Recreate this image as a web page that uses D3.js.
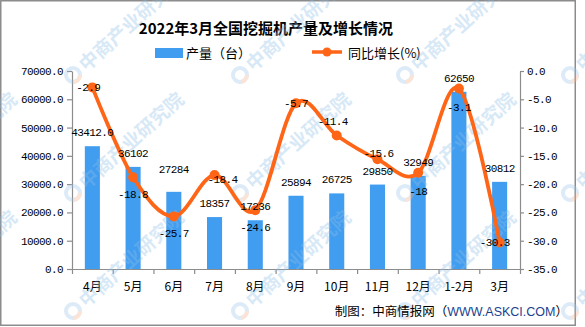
<!DOCTYPE html>
<html><head><meta charset="utf-8">
<script src="https://cdn.jsdelivr.net/npm/d3@7"></script>
<style>
html,body{margin:0;padding:0;background:#fff;}
svg{display:block;}
</style></head>
<body>
<svg id="chart" width="585" height="327"></svg>
<script>
// ---- data ----
const months = ["4月","5月","6月","7月","8月","9月","10月","11月","12月","1-2月","3月"];
const production = [43412, 36102, 27284, 18357, 17236, 25894, 26725, 29850, 32949, 62650, 30812];
const productionLabels = ["43412.0","36102","27284","18357","17236","25894","26725","29850","32949","62650","30812"];
const growth = [-2.9, -18.8, -25.7, -18.4, -24.6, -5.7, -11.4, -15.6, -18, -3.1, -30.3];
const leftTicks = [0, 10000, 20000, 30000, 40000, 50000, 60000, 70000];
const rightTicks = [0, -5, -10, -15, -20, -25, -30, -35];

// ---- layout (label offsets relative to the mark) ----
const barLabelLift = [10,10,19,10,10,10,10,10,10,10,10];
const lineLabelOffset = [[-4,4],[0,21],[0,21],[8,8],[0,21],[0,4],[-4,-10],[1,-2],[0,22],[0,22],[-5,4]];

const svg = d3.select("#chart");
const L = 72, R = 520, T = 71, B = 269;
const BLUE = "#419df0", ORANGE = "#ff6517", AX = "#8c8c8c";
const numFont = "'Liberation Mono', 'DejaVu Sans Mono', monospace";
const cjkFont = "'Noto Sans CJK SC', 'Noto Sans', sans-serif";

// border
svg.append("rect").attr("x",0.75).attr("y",0.75).attr("width",574.5).attr("height",324.5)
  .attr("fill","#fff").attr("stroke",AX).attr("stroke-width",1.5);

const x = d3.scaleBand().domain(months).range([L,R]).paddingInner(0.63).paddingOuter(0.315);
const xEdge = d3.scaleLinear().domain([0, months.length]).range([L,R]);
const yL = d3.scaleLinear().domain([0,70000]).range([B,T]);
const yR = d3.scaleLinear().domain([-35,0]).range([B,T]);
const cx = m => x(m) + x.bandwidth()/2;

// title
svg.append("text").attr("x",266).attr("y",34).attr("text-anchor","middle")
  .attr("font-family","'Noto Sans CJK SC', sans-serif").attr("font-weight","bold")
  .attr("font-size",15).attr("fill","#000").text("2022年3月全国挖掘机产量及增长情况");

// legend
svg.append("rect").attr("x",155).attr("y",48).attr("width",28).attr("height",10).attr("fill",BLUE);
svg.append("text").attr("x",186).attr("y",57.5).attr("font-family",cjkFont).attr("font-size",13).text("产量（台）");
svg.append("line").attr("x1",312).attr("x2",342).attr("y1",52).attr("y2",52).attr("stroke",ORANGE).attr("stroke-width",3.5);
svg.append("circle").attr("cx",327).attr("cy",52).attr("r",4.5).attr("fill",ORANGE);
svg.append("text").attr("x",348).attr("y",57.5).attr("font-family",cjkFont).attr("font-size",13).text("同比增长(%)");

// axes
const fmt = d => d.toFixed(1);
const gL = svg.append("g").attr("transform",`translate(${L},0)`)
  .call(d3.axisLeft(yL).tickValues(leftTicks).tickFormat(fmt).tickSize(5).tickPadding(4).tickSizeOuter(0));
const gR = svg.append("g").attr("transform",`translate(${R},0)`)
  .call(d3.axisRight(yR).tickValues(rightTicks).tickFormat(fmt).tickSize(4).tickPadding(3).tickSizeOuter(0));
const gB = svg.append("g").attr("transform",`translate(0,${B})`)
  .call(d3.axisBottom(xEdge).tickValues(d3.range(0, months.length+1)).tickFormat("").tickSize(5).tickSizeOuter(0));
[gL,gR,gB].forEach(g=>{
  g.selectAll("path,line").attr("stroke",AX).attr("stroke-width",1.2);
  g.selectAll("text").attr("font-family",numFont).attr("font-size",11).attr("letter-spacing","-0.6px").attr("fill","#000");
});
const gC = svg.append("g").attr("transform",`translate(0,${B})`)
  .call(d3.axisBottom(x).tickSize(0).tickPadding(13));
gC.select(".domain").remove();
gC.selectAll("text").attr("font-family",cjkFont).attr("font-size",12).attr("fill","#000");

// bars
svg.append("g").selectAll("rect").data(months).join("rect")
  .attr("x", d=>x(d)).attr("width", x.bandwidth())
  .attr("y", (d,i)=>yL(production[i])).attr("height",(d,i)=>yL(0)-yL(production[i]))
  .attr("fill", BLUE);

// watermark (clipped to the picture)
svg.append("clipPath").attr("id","wmclip").append("rect").attr("width",585).attr("height",327);
const wm = svg.append("g").attr("pointer-events","none").attr("clip-path","url(#wmclip)");
const wmX = [-94, 73, 240, 405, 570], wmY = [-43, 75, 193, 311];
wmX.forEach(x0 => wmY.forEach(y0 => {
  const g = wm.append("g").attr("transform",`translate(${x0},${y0})`).attr("opacity",0.34);
  g.append("circle").attr("r",7).attr("fill","none").attr("stroke","#9cc6ea").attr("stroke-width",4);
  g.append("path").attr("d", d3.arc()({innerRadius:5,outerRadius:9,startAngle:1.6,endAngle:3.0})).attr("fill","#f6b08a");
  g.append("text").attr("transform","rotate(-42) translate(12,7)")
    .attr("font-family",cjkFont).attr("font-weight","bold").attr("font-size",19)
    .attr("fill","#8dbde6").text("中商产业研究院");
}));

// line
const line = d3.line().x((d,i)=>cx(months[i])).y(d=>yR(d)).curve(d3.curveCardinal.tension(0));
svg.append("path").datum(growth).attr("d", line).attr("fill","none")
  .attr("stroke",ORANGE).attr("stroke-width",3.8).attr("stroke-linejoin","round");
svg.append("g").selectAll("circle").data(growth).join("circle")
  .attr("cx",(d,i)=>cx(months[i])).attr("cy",d=>yR(d)).attr("r",5).attr("fill",ORANGE);

// bar labels
svg.append("g").selectAll("text").data(productionLabels).join("text")
  .attr("x",(d,i)=>cx(months[i])).attr("y",(d,i)=>yL(production[i]) - barLabelLift[i])
  .attr("text-anchor","middle").attr("font-family",numFont).attr("font-size",11)
  .attr("letter-spacing","-0.6px").attr("fill","#000").text(d=>d);

// line labels
svg.append("g").selectAll("text").data(growth).join("text")
  .attr("x",(d,i)=>cx(months[i]) + lineLabelOffset[i][0])
  .attr("y",(d,i)=>yR(d) + lineLabelOffset[i][1])
  .attr("text-anchor","middle").attr("font-family",numFont).attr("font-size",11)
  .attr("letter-spacing","-0.6px").attr("fill","#000").text(d=>String(d));

// footer
const ft = svg.append("text").attr("x",568).attr("y",316).attr("text-anchor","end")
  .attr("font-family",cjkFont).attr("font-size",12.5).attr("fill","#000");
ft.append("tspan").text("制图：中商情报网（");
ft.append("tspan").attr("font-family","'Liberation Sans', Arial, sans-serif").attr("fill","#1c3f8f").text("WWW.ASKCI.COM");
ft.append("tspan").text("）");
</script>
</body></html>
